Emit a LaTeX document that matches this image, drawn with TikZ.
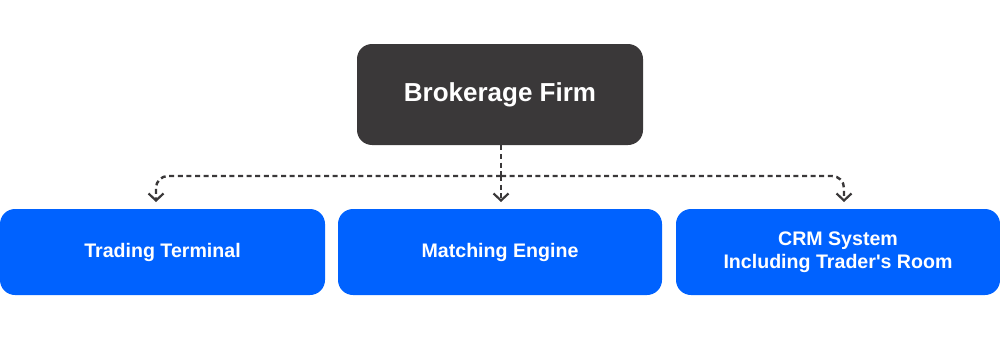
\documentclass[tikz,border=0pt]{standalone}
\usepackage{fontspec}
\setmainfont{Liberation Sans}
\usetikzlibrary{arrows.meta}
\definecolor{darkbox}{HTML}{3A3839}
\definecolor{bluebox}{HTML}{0062FF}
\tikzset{
  topbox/.style={fill=darkbox, rounded corners=7.5pt, minimum width=143pt, minimum height=50.5pt, text=white, font=\fontsize{13}{15}\selectfont\bfseries, inner sep=0pt},
  bluenode/.style={fill=bluebox, rounded corners=7.5pt, minimum width=162pt, minimum height=43pt, text=white, font=\fontsize{9.8}{11.5}\selectfont\bfseries, align=center, inner sep=0pt},
  conn/.style={draw=darkbox, line width=1.2pt, dash pattern=on 2.5pt off 1.8pt, rounded corners=6pt},
  tip/.style={-{Straight Barb[length=3.5pt,width=7.5pt,line width=1.1pt]}}
}
\begin{document}
\begin{tikzpicture}[x=0.5pt,y=-0.5pt]
\useasboundingbox (0,0) rectangle (1000,337);
\node[topbox] (top) at (500,94.5) {Brokerage Firm};
\node[bluenode, minimum width=162.5pt] (left) at (162.5,252) {Trading Terminal};
\node[bluenode] (mid) at (500,252) {Matching Engine};
\node[bluenode] (right) at (838,252) {CRM System\\Including Trader\textquotesingle s Room};
\coordinate (hub) at (501,176);
\coordinate (la) at (156,202);
\coordinate (ma) at (501,202);
\coordinate (ra) at (844,202);
\draw[conn] (top.south -| hub) -- (hub);
\draw[conn,tip] (hub) -- (ma);
\draw[conn,tip] (hub) -| (la);
\draw[conn,tip] (hub) -| (ra);
\end{tikzpicture}
\end{document}
